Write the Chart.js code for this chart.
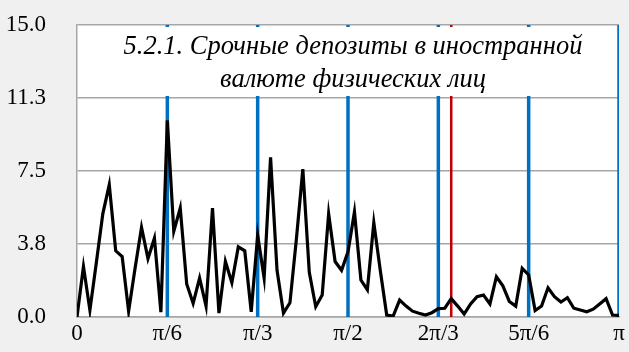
<!DOCTYPE html>
<html>
<head>
<meta charset="utf-8">
<script src="https://cdn.jsdelivr.net/npm/chart.js@4"></script>
<style>
  html, body { margin: 0; padding: 0; background: #f0f0f0; }
  canvas { display: block; }
</style>
</head>
<body>
<canvas id="chart" width="629" height="352"></canvas>
<script>
// deposits series, 85 points evenly spread over 0..π
const values = [
  0, 2.6, 0.35, 2.8, 5.3, 6.8, 3.4, 3.1, 0.3, 2.5, 4.6, 3.0, 4.05, 0.25,
  10.1, 4.4, 5.6, 1.7, 0.7, 2.0, 0.56, 5.6, 0.2, 2.85, 1.76, 3.6, 3.4, 0.27,
  4.2, 2.0, 8.2, 2.4, 0.2, 0.73, 4.0, 7.6, 2.3, 0.53, 1.13, 5.3, 2.85, 2.4,
  3.35, 5.4, 1.9, 1.4, 4.85, 2.4, 0.1, 0.05, 0.87, 0.56, 0.3, 0.19, 0.1, 0.22,
  0.43, 0.45, 0.94, 0.56, 0.15, 0.67, 1.04, 1.13, 0.67, 2.07, 1.6, 0.8, 0.56,
  2.5, 2.16, 0.33, 0.56, 1.5, 1.04, 0.77, 0.99, 0.45, 0.36, 0.27, 0.4, 0.67,
  0.94, 0.1, 0.08
];
const step = Math.PI / (values.length - 1);

const xTickLabels = ["0", "π/6", "π/3", "π/2", "2π/3", "5π/6", "π"];
const blueLines = [1/6, 2/6, 3/6, 4/6, 5/6, 1];   // in units of π
const redLine = 58/84;                              // in units of π
const titleLines = ["5.2.1. Срочные депозиты в иностранной", "валюте физических лиц"];

const points = values.map((v, i) => ({ x: i * step, y: v }));

const datasets = [{
  data: points,
  borderColor: "#000000",
  borderWidth: 3.2,
  pointRadius: 0,
  tension: 0,
  order: 0
}];
blueLines.forEach((p) => {
  datasets.push({
    data: [{ x: p * Math.PI, y: 0 }, { x: p * Math.PI, y: 15 }],
    borderColor: "#0070c0",
    borderWidth: 3.5,
    pointRadius: 0,
    order: 1
  });
});
datasets.push({
  data: [{ x: redLine * Math.PI, y: 0 }, { x: redLine * Math.PI, y: 15 }],
  borderColor: "#c00000",
  borderWidth: 2.5,
  pointRadius: 0,
  order: 1
});

const plotBg = {
  id: "plotBg",
  beforeDraw(chart) {
    const a = chart.chartArea, ctx = chart.ctx;
    ctx.save();
    ctx.fillStyle = "#ffffff";
    ctx.fillRect(a.left, a.top, a.right - a.left, a.bottom - a.top);
    ctx.restore();
  }
};

const titleBox = {
  id: "titleBox",
  afterDatasetsDraw(chart) {
    const ctx = chart.ctx;
    ctx.save();
    ctx.fillStyle = "#ffffff";
    ctx.fillRect(114, 27, 479, 69);
    ctx.fillStyle = "#000000";
    ctx.font = "italic 26.5px 'Liberation Serif'";
    ctx.textAlign = "center";
    ctx.textBaseline = "middle";
    ctx.fillText(titleLines[0], 353, 47);
    ctx.fillText(titleLines[1], 353, 80);
    ctx.restore();
  }
};

new Chart(document.getElementById("chart"), {
  type: "line",
  data: { datasets: datasets },
  options: {
    responsive: false,
    animation: false,
    layout: { padding: { top: 25, right: 10, left: 0, bottom: 0 } },
    plugins: { legend: { display: false }, tooltip: { enabled: false } },
    scales: {
      x: {
        type: "linear",
        min: 0,
        max: Math.PI,
        afterBuildTicks: (scale) => {
          scale.ticks = xTickLabels.map((l, k) => ({ value: k * Math.PI / 6 }));
        },
        afterFit: (scale) => { scale.height = 35; },
        ticks: {
          callback: (v, i) => xTickLabels[i],
          color: "#000000",
          font: { family: "'Liberation Serif'", size: 23 },
          padding: 3,
          maxRotation: 0,
          autoSkip: false
        },
        grid: { display: false, drawTicks: false },
        border: { color: "#a6a6a6", width: 1.5 }
      },
      y: {
        min: 0,
        max: 15,
        afterFit: (scale) => {
          scale.width = 77;
          scale.paddingTop = 0;
          scale.paddingBottom = 0;
        },
        ticks: {
          stepSize: 3.75,
          callback: (v) => v.toFixed(1),
          color: "#000000",
          font: { family: "'Liberation Serif'", size: 23 },
          padding: 31
        },
        grid: { color: "#a6a6a6", lineWidth: 1.5, drawTicks: false },
        border: { color: "#a6a6a6", width: 1.5 }
      }
    }
  },
  plugins: [plotBg, titleBox]
});
</script>
</body>
</html>
